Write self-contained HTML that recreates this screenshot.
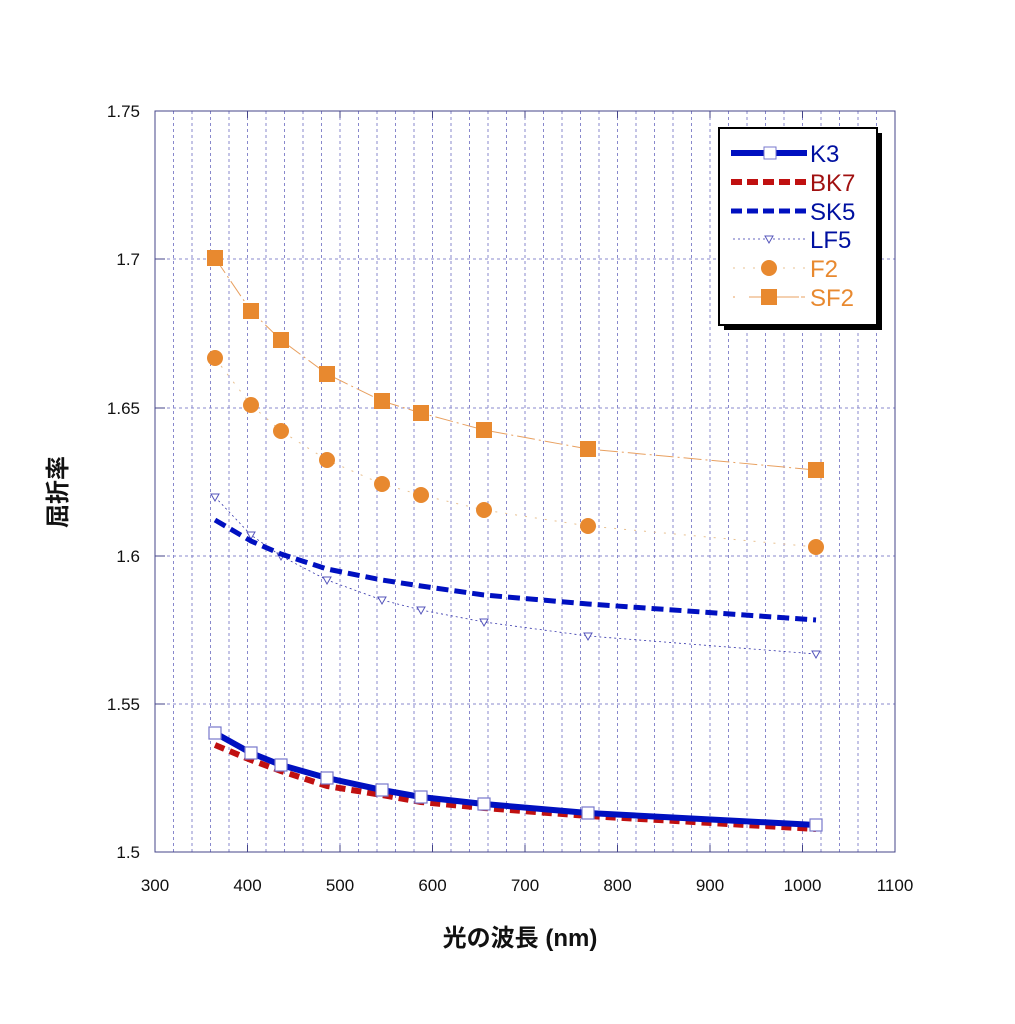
<!DOCTYPE html>
<html><head><meta charset="utf-8"><style>body{margin:0;background:#fff}svg{display:block}</style></head><body>
<svg width="1015" height="1024" xmlns="http://www.w3.org/2000/svg" font-family="'Liberation Sans','Noto Sans CJK JP',sans-serif">
<rect width="1015" height="1024" fill="#fff"/>
<g stroke="#8888cc" stroke-width="1" stroke-dasharray="3,3">
<line x1="173.5" y1="111" x2="173.5" y2="852"/><line x1="192" y1="111" x2="192" y2="852"/><line x1="210.5" y1="111" x2="210.5" y2="852"/><line x1="229" y1="111" x2="229" y2="852"/><line x1="247.5" y1="111" x2="247.5" y2="852"/>
<line x1="266" y1="111" x2="266" y2="852"/><line x1="284.5" y1="111" x2="284.5" y2="852"/><line x1="303" y1="111" x2="303" y2="852"/><line x1="321.5" y1="111" x2="321.5" y2="852"/><line x1="340" y1="111" x2="340" y2="852"/>
<line x1="358.5" y1="111" x2="358.5" y2="852"/><line x1="377" y1="111" x2="377" y2="852"/><line x1="395.5" y1="111" x2="395.5" y2="852"/><line x1="414" y1="111" x2="414" y2="852"/><line x1="432.5" y1="111" x2="432.5" y2="852"/>
<line x1="451" y1="111" x2="451" y2="852"/><line x1="469.5" y1="111" x2="469.5" y2="852"/><line x1="488" y1="111" x2="488" y2="852"/><line x1="506.5" y1="111" x2="506.5" y2="852"/><line x1="525" y1="111" x2="525" y2="852"/>
<line x1="543.5" y1="111" x2="543.5" y2="852"/><line x1="562" y1="111" x2="562" y2="852"/><line x1="580.5" y1="111" x2="580.5" y2="852"/><line x1="599" y1="111" x2="599" y2="852"/><line x1="617.5" y1="111" x2="617.5" y2="852"/>
<line x1="636" y1="111" x2="636" y2="852"/><line x1="654.5" y1="111" x2="654.5" y2="852"/><line x1="673" y1="111" x2="673" y2="852"/><line x1="691.5" y1="111" x2="691.5" y2="852"/><line x1="710" y1="111" x2="710" y2="852"/>
<line x1="728.5" y1="111" x2="728.5" y2="852"/><line x1="747" y1="111" x2="747" y2="852"/><line x1="765.5" y1="111" x2="765.5" y2="852"/><line x1="784" y1="111" x2="784" y2="852"/><line x1="802.5" y1="111" x2="802.5" y2="852"/>
<line x1="821" y1="111" x2="821" y2="852"/><line x1="839.5" y1="111" x2="839.5" y2="852"/><line x1="858" y1="111" x2="858" y2="852"/><line x1="876.5" y1="111" x2="876.5" y2="852"/>
<line x1="155" y1="259" x2="895" y2="259"/><line x1="155" y1="408" x2="895" y2="408"/><line x1="155" y1="556" x2="895" y2="556"/><line x1="155" y1="704" x2="895" y2="704"/>
</g>
<rect x="155" y="111" width="740" height="741" fill="none" stroke="#44448a" stroke-width="1"/>
<g stroke="#44448a" stroke-width="1">
<line x1="247.5" y1="111" x2="247.5" y2="118"/><line x1="340" y1="111" x2="340" y2="118"/><line x1="432.5" y1="111" x2="432.5" y2="118"/><line x1="525" y1="111" x2="525" y2="118"/><line x1="617.5" y1="111" x2="617.5" y2="118"/><line x1="710" y1="111" x2="710" y2="118"/><line x1="802.5" y1="111" x2="802.5" y2="118"/>
<line x1="247.5" y1="852" x2="247.5" y2="845"/><line x1="340" y1="852" x2="340" y2="845"/><line x1="432.5" y1="852" x2="432.5" y2="845"/><line x1="525" y1="852" x2="525" y2="845"/><line x1="617.5" y1="852" x2="617.5" y2="845"/><line x1="710" y1="852" x2="710" y2="845"/><line x1="802.5" y1="852" x2="802.5" y2="845"/>
<line x1="155" y1="259" x2="165" y2="259"/><line x1="155" y1="408" x2="165" y2="408"/><line x1="155" y1="556" x2="165" y2="556"/><line x1="155" y1="704" x2="165" y2="704"/>
</g>
<g font-size="17" fill="#111" text-anchor="end">
<text x="140" y="117">1.75</text><text x="140" y="265">1.7</text><text x="140" y="414">1.65</text><text x="140" y="562">1.6</text><text x="140" y="710">1.55</text><text x="140" y="858">1.5</text>
</g>
<g font-size="17" fill="#111" text-anchor="middle">
<text x="155" y="891">300</text><text x="247.5" y="891">400</text><text x="340" y="891">500</text><text x="432.5" y="891">600</text><text x="525" y="891">700</text><text x="617.5" y="891">800</text><text x="710" y="891">900</text><text x="802.5" y="891">1000</text><text x="895" y="891">1100</text>
</g>
<text x="520" y="946" font-size="24" font-weight="bold" text-anchor="middle" fill="#111">光の波長 (nm)</text>
<text transform="translate(66,492) rotate(-90)" font-size="24" font-weight="bold" text-anchor="middle" fill="#111">屈折率</text>
<!-- SF2 -->
<polyline points="215,258 251,311 281,340 327,374 382,401 421,413 484,430 588,449 816,470" fill="none" stroke="#e8a060" stroke-width="1" stroke-dasharray="18,4,2,4"/>
<g fill="#e8892f"><rect x="207" y="250" width="16" height="16"/><rect x="243" y="303" width="16" height="16"/><rect x="273" y="332" width="16" height="16"/><rect x="319" y="366" width="16" height="16"/><rect x="374" y="393" width="16" height="16"/><rect x="413" y="405" width="16" height="16"/><rect x="476" y="422" width="16" height="16"/><rect x="580" y="441" width="16" height="16"/><rect x="808" y="462" width="16" height="16"/></g>
<!-- F2 -->
<polyline points="215,358 251,405 281,431 327,460 382,484 421,495 484,510 588,526 816,547" fill="none" stroke="#e8c090" stroke-width="1" stroke-dasharray="2,8"/>
<g fill="#e8892f"><circle cx="215" cy="358" r="8"/><circle cx="251" cy="405" r="8"/><circle cx="281" cy="431" r="8"/><circle cx="327" cy="460" r="8"/><circle cx="382" cy="484" r="8"/><circle cx="421" cy="495" r="8"/><circle cx="484" cy="510" r="8"/><circle cx="588" cy="526" r="8"/><circle cx="816" cy="547" r="8"/></g>
<!-- LF5 -->
<polyline points="215,497 251,535 281,556 327,580 382,600 421,610 484,622 588,636 816,654" fill="none" stroke="#3333aa" stroke-width="0.8" stroke-dasharray="2,3"/>
<g fill="#fff" stroke="#5555bb" stroke-width="1"><path d="M211,494h8l-4,7z"/><path d="M247,532h8l-4,7z"/><path d="M277,553h8l-4,7z"/><path d="M323,577h8l-4,7z"/><path d="M378,597h8l-4,7z"/><path d="M417,607h8l-4,7z"/><path d="M480,619h8l-4,7z"/><path d="M584,633h8l-4,7z"/><path d="M812,651h8l-4,7z"/></g>
<!-- SK5 -->
<polyline points="215,520 251,541 281,554 327,569 382,580 421,586 484,595 588,604 816,620" fill="none" stroke="#0010c0" stroke-width="5" stroke-dasharray="12,6"/>
<!-- BK7 -->
<polyline points="215,745 251,760 281,771 327,786 382,795 421,802 484,808 588,816 816,829" fill="none" stroke="#c01010" stroke-width="6" stroke-dasharray="10,6"/>
<!-- K3 -->
<polyline points="215,733 251,753 281,765 327,778 382,790 421,797 484,804 588,813 816,825" fill="none" stroke="#0010c0" stroke-width="6"/>
<g fill="#fff" stroke="#7777cc" stroke-width="1.2"><rect x="209" y="727" width="12" height="12"/><rect x="245" y="747" width="12" height="12"/><rect x="275" y="759" width="12" height="12"/><rect x="321" y="772" width="12" height="12"/><rect x="376" y="784" width="12" height="12"/><rect x="415" y="791" width="12" height="12"/><rect x="478" y="798" width="12" height="12"/><rect x="582" y="807" width="12" height="12"/><rect x="810" y="819" width="12" height="12"/></g>
<!-- legend -->
<rect x="724" y="133" width="158" height="197" fill="#000"/>
<rect x="719" y="128" width="158" height="197" fill="#fff" stroke="#000" stroke-width="2"/>
<g font-size="24">
<line x1="731" y1="153" x2="807" y2="153" stroke="#0010c0" stroke-width="6"/><rect x="764" y="147" width="12" height="12" fill="#fff" stroke="#7777cc"/>
<text x="810" y="162" fill="#0010a0">K3</text>
<line x1="731" y1="182" x2="807" y2="182" stroke="#c01010" stroke-width="6" stroke-dasharray="11,5"/>
<text x="810" y="191" fill="#a01010">BK7</text>
<line x1="731" y1="211" x2="807" y2="211" stroke="#0010c0" stroke-width="5" stroke-dasharray="11,5"/>
<text x="810" y="220" fill="#0010a0">SK5</text>
<line x1="733" y1="239" x2="805" y2="239" stroke="#3333aa" stroke-width="0.8" stroke-dasharray="2,3"/><path d="M765,236h8l-4,7z" fill="#fff" stroke="#5555bb"/>
<text x="810" y="248" fill="#0010a0">LF5</text>
<line x1="733" y1="268" x2="805" y2="268" stroke="#e8c090" stroke-width="1" stroke-dasharray="2,8"/><circle cx="769" cy="268" r="8" fill="#e8892f"/>
<text x="810" y="277" fill="#e8892f">F2</text>
<line x1="733" y1="297" x2="805" y2="297" stroke="#e8a060" stroke-width="1" stroke-dasharray="2,14,50"/><rect x="761" y="289" width="16" height="16" fill="#e8892f"/>
<text x="810" y="306" fill="#e8892f">SF2</text>
</g>
</svg>
</body></html>
